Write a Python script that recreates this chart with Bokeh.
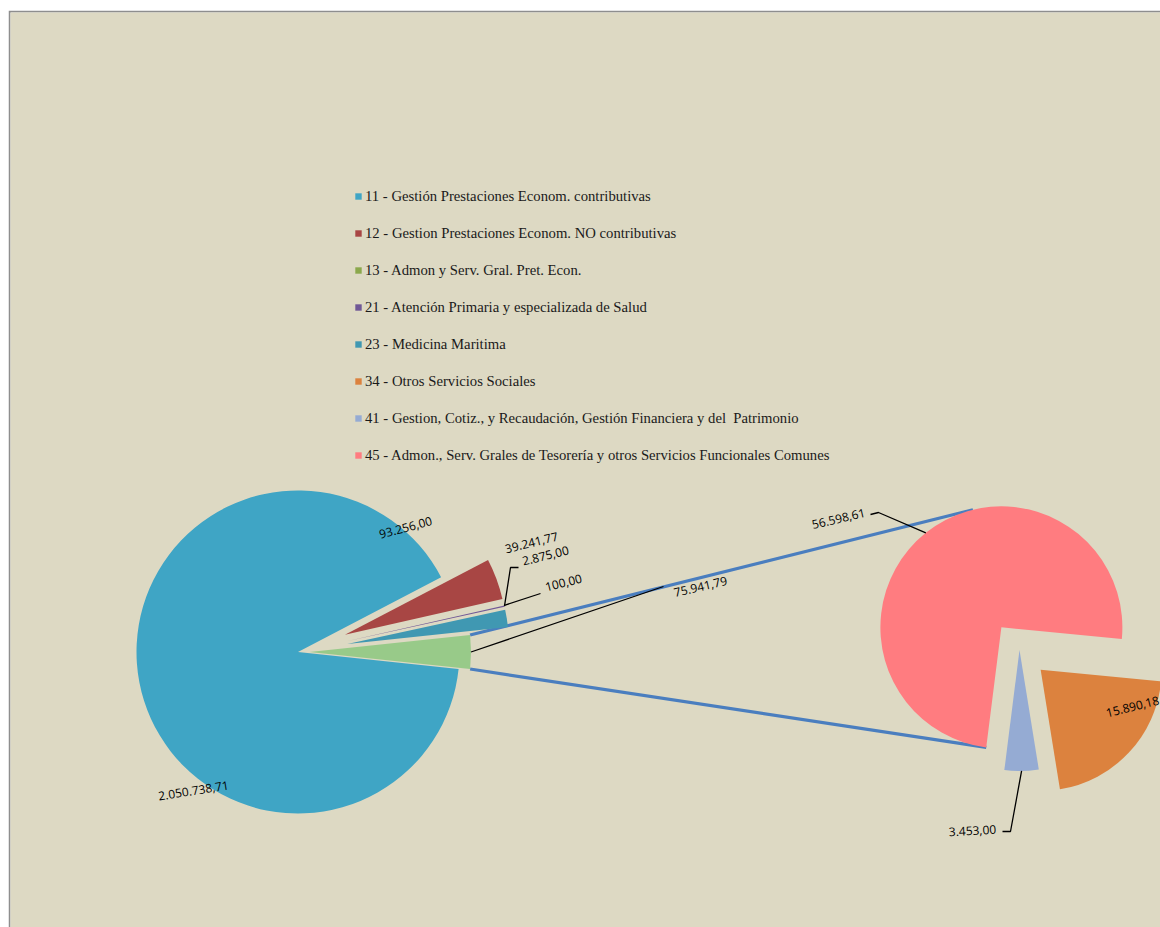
import math
from bokeh.plotting import figure
from bokeh.models import Range1d, ColumnDataSource, Legend, LegendItem, Label
from bokeh.embed import file_html
from bokeh.resources import INLINE
from bokeh.core.properties import value

# ---------------- data ----------------
codes = ["11", "12", "13", "21", "23", "34", "41", "45"]
names = [
    "11 - Gestión Prestaciones Econom. contributivas",
    "12 - Gestion Prestaciones Econom. NO contributivas",
    "13 - Admon y Serv. Gral. Pret. Econ.",
    "21 - Atención Primaria y especializada de Salud",
    "23 - Medicina Maritima",
    "34 - Otros Servicios Sociales",
    "41 - Gestion, Cotiz., y Recaudación, Gestión Financiera y del  Patrimonio",
    "45 - Admon., Serv. Grales de Tesorería y otros Servicios Funcionales Comunes",
]
amounts = [2050738.71, 93256.00, 100.00, 2875.00, 39241.77, 15890.18, 3453.00, 56598.61]
colors = ["#3FA5C5", "#A84644", "#8BA84C", "#705896", "#4098B2", "#DC823E", "#95ABD3", "#FF7C80"]
main_codes = ["11", "12", "13", "21", "23"]
second_codes = ["34", "41", "45"]
other_color = "#98CA89"

# ---------------- style / layout ----------------
BG = "#DDD9C3"
BORDER = "#8E8E8E"
CONNECT = "#4A7EBF"
W, H = 1152, 917
FX0, FX1, FY0, FY1 = 10, 1160, 12, 927          # frame in page pixels

C1 = (297.5, -651.5); R1 = 161.5                 # main pie (data = page x, -page y)
EXPLODE1 = {"11": 0, "12": 50, "13": 50, "21": 50, "23": 50, "other": 11.5}
C2 = (1019.0, -649.5); R2 = 121.0                # second pie
EXPLODE2 = {"34": 29, "41": 0, "45": 29}
START2 = math.radians(-5.5)
UPPER_TARGET = math.radians(103.6)

# label centres (page px), rotation (deg)
label_pos = {"11": (193, 790), "12": (405, 527), "13": (563, 582), "21": (545, 555),
             "23": (531, 542), "other": (700, 586), "34": (1132, 706), "41": (972, 830),
             "45": (838, 518)}
label_rot = {"11": 9, "12": 15, "13": 14, "21": 14, "23": 14, "other": 13, "34": 14,
             "41": 3, "45": 13}
leader_elbows = {"21": [(518, 567), (510, 567)], "13": [(540, 593)], "other": [(663, 586)],
                 "45": [(870, 514), (878, 512)], "41": [(1002, 831), (1010, 831)]}


def fmt(v):
    s = f"{v:,.2f}"
    return s.replace(",", "_").replace(".", ",").replace("_", ".")


amt = dict(zip(codes, amounts))
col = dict(zip(codes, colors))
other_val = sum(amt[c] for c in second_codes)

# ---------- main pie geometry ----------
total1 = sum(amt[c] for c in main_codes) + other_val
vals1 = {c: amt[c] for c in main_codes}
vals1["other"] = other_val
geo = {}
a = -math.pi * other_val / total1
for key in ["other"] + main_codes[::-1]:
    th = 2 * math.pi * vals1[key] / total1
    s, e = a, a + th
    m = (s + e) / 2
    cx = C1[0] + EXPLODE1[key] * math.cos(m)
    cy = C1[1] + EXPLODE1[key] * math.sin(m)
    geo[key] = dict(x=cx, y=cy, r=R1, s=s, e=e, m=m)
    a = e

# ---------- second pie geometry ----------
total2 = other_val
a = START2
for key in second_codes:
    th = 2 * math.pi * amt[key] / total2
    e, s = a, a - th
    m = (s + e) / 2
    cx = C2[0] + EXPLODE2[key] * math.cos(m)
    cy = C2[1] + EXPLODE2[key] * math.sin(m)
    geo[key] = dict(x=cx, y=cy, r=R2, s=s, e=e, m=m)
    a = s


def edge(key, ang=None):
    g = geo[key]
    ang = g["m"] if ang is None else ang
    return g["x"] + g["r"] * math.cos(ang), g["y"] + g["r"] * math.sin(ang)


# ---------------- figure ----------------
p = figure(width=W, height=H, x_range=Range1d(FX0, FX1), y_range=Range1d(-FY1, -FY0),
           output_backend="svg", toolbar_location=None, x_axis_location=None,
           y_axis_location=None, min_border_left=2, min_border_top=2, min_border_right=0,
           min_border_bottom=0, background_fill_color=BG, border_fill_color=BORDER,
           outline_line_color=None, margin=(10, 0, 0, 8))
p.grid.visible = False

# connector lines (series lines)
ux, uy = geo["45"]["x"] + R2 * math.cos(UPPER_TARGET), geo["45"]["y"] + R2 * math.sin(UPPER_TARGET)
lx, ly = edge("45", geo["45"]["e"])
ox1, oy1 = edge("other", geo["other"]["e"])
ox0, oy0 = edge("other", geo["other"]["s"])
p.segment(x0=[ox1, ox0], y0=[oy1, oy0], x1=[ux, lx], y1=[uy, ly], line_color=CONNECT,
          line_width=3.2)

keys1 = main_codes + ["other"]
src1 = ColumnDataSource(dict(
    x=[geo[k]["x"] for k in keys1], y=[geo[k]["y"] for k in keys1],
    s=[geo[k]["s"] for k in keys1], e=[geo[k]["e"] for k in keys1],
    c=[col[k] for k in main_codes] + [other_color]))
r1 = p.wedge(x="x", y="y", radius=R1, start_angle="s", end_angle="e", fill_color="c",
             line_color=None, source=src1)

src2 = ColumnDataSource(dict(
    x=[geo[k]["x"] for k in second_codes], y=[geo[k]["y"] for k in second_codes],
    s=[geo[k]["s"] for k in second_codes], e=[geo[k]["e"] for k in second_codes],
    c=[col[k] for k in second_codes]))
r2 = p.wedge(x="x", y="y", radius=R2, start_angle="s", end_angle="e", fill_color="c",
             line_color=None, source=src2)

# leader lines
lead_x, lead_y = [], []
for key, pts in leader_elbows.items():
    ax, ay = edge(key)
    lead_x.append([x for x, _ in pts] + [ax])
    lead_y.append([-y for _, y in pts] + [ay])
p.multi_line(xs=lead_x, ys=lead_y, line_color="#000000", line_width=1.3)

# data labels
lab_keys = [k for k in label_pos if k != "other"]
src_lab = ColumnDataSource(dict(
    x=[label_pos[k][0] for k in lab_keys], y=[-label_pos[k][1] for k in lab_keys],
    t=[fmt(amt[k]) for k in lab_keys], a=[math.radians(label_rot[k]) for k in lab_keys]))
p.text(x="x", y="y", text="t", angle="a", source=src_lab, text_align="center",
       text_baseline="middle", text_font=value("Open Sans"), text_font_size="12px",
       text_color="#000000")
p.add_layout(Label(x=label_pos["other"][0], y=-label_pos["other"][1], text=fmt(other_val),
                   angle=math.radians(label_rot["other"]), text_align="center",
                   text_baseline="middle", text_font="Open Sans", text_font_size="12px",
                   text_color="#000000", background_fill_color=BG,
                   background_fill_alpha=0.75))

# legend
items = []
for i, c in enumerate(codes):
    if c in main_codes:
        items.append(LegendItem(label=names[i], renderers=[r1], index=main_codes.index(c)))
    else:
        items.append(LegendItem(label=names[i], renderers=[r2], index=second_codes.index(c)))
legend = Legend(items=items, location=(344, 462), orientation="vertical", glyph_width=8,
                glyph_height=8, label_standoff=3, spacing=17, padding=0, margin=0,
                label_height=20, label_text_font="Liberation Serif",
                label_text_font_size="14.7px", label_text_color="#1A1A1A",
                background_fill_alpha=0, border_line_alpha=0)
p.add_layout(legend)

open("out.html", "w").write(file_html(p, INLINE))
